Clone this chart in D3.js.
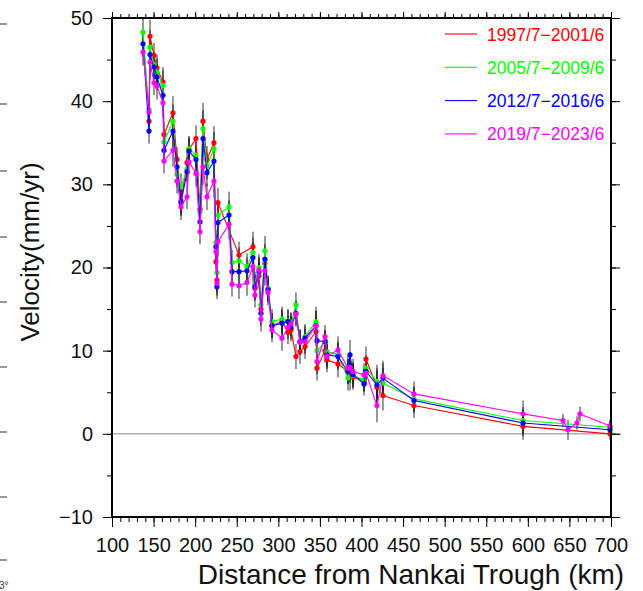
<!DOCTYPE html>
<html>
<head>
<meta charset="utf-8">
<script src="https://cdn.jsdelivr.net/npm/d3@7"></script>
<style>
  html, body { margin: 0; padding: 0; background: #fff; }
  svg { display: block; font-family: "Liberation Sans", Arial, Helvetica, sans-serif; }
</style>
</head>
<body>
<svg id="chart" width="643" height="591"></svg>
<script>
// ---- data ----
const distanceKm = [137.3,144.5,145.7,150.5,154.1,161.3,162.5,173.3,178.2,183.0,190.2,192.6,201.0,205.8,209.4,214.2,222.6,225.0,226.2,227.4,240.7,244.3,252.7,262.3,269.5,271.9,276.7,279.1,283.9,287.6,292.4,304.4,311.6,315.2,321.2,326.0,332.1,345.3,346.5,356.1,358.5,371.7,383.7,386.2,389.8,403.0,405.4,418.6,425.8,463.1,594.2,642.3,648.3,659.1,662.7,698.8];
const vel1997 = [null,37.6,47.8,45.5,44.0,42.3,36.0,38.6,33.0,28.0,32.6,34.2,35.5,27.0,37.6,33.0,35.0,20.7,18.5,27.8,null,null,21.5,null,22.5,17.5,19.0,15.0,20.5,17.5,13.0,13.5,12.2,12.5,9.3,9.9,10.5,12.3,7.9,10.0,8.9,8.4,7.5,7.0,6.8,6.5,9.0,5.6,4.6,3.4,0.9,null,null,null,null,0.0];
const vel2005 = [48.3,39.0,46.5,44.4,43.5,41.9,35.1,37.6,31.2,29.7,31.8,34.3,33.5,26.7,36.7,32.2,34.3,23.0,19.4,26.3,27.3,20.6,20.8,20.1,21.8,18.0,20.0,15.5,22.0,17.5,13.5,13.8,13.6,13.2,15.5,11.0,11.7,13.5,10.0,11.0,9.9,9.5,6.7,8.0,7.0,6.5,7.9,6.3,6.1,4.2,1.6,null,null,null,null,0.8];
const vel2012 = [46.9,36.4,45.6,44.1,42.9,40.7,34.1,36.4,32.1,27.8,31.5,34.0,33.0,25.5,35.5,31.4,32.8,22.5,17.7,25.4,26.3,19.5,19.5,19.6,21.2,17.7,19.5,14.5,21.0,17.3,13.0,13.3,13.5,12.8,14.5,11.1,11.5,13.0,11.2,11.1,9.5,9.3,7.5,9.5,7.1,6.0,7.5,5.9,6.7,4.0,1.3,null,null,null,null,0.5];
const vel2019 = [45.9,38.7,44.7,42.2,41.8,39.8,32.8,34.1,30.4,27.3,28.5,32.7,31.3,24.3,32.1,28.5,30.4,21.9,18.1,23.1,25.2,18.0,17.8,18.2,20.1,16.7,19.7,13.8,19.6,17.0,12.5,11.5,12.8,13.2,14.4,11.0,11.1,13.0,8.7,11.7,9.3,10.1,7.9,8.0,7.5,7.1,7.3,3.4,7.0,4.8,2.4,1.6,0.5,1.3,2.4,0.95];
const errorMm = [1.6,1.5,2.0,1.5,1.6,1.8,1.5,2.0,1.5,1.6,1.5,1.5,1.6,1.5,2.2,1.6,2.0,1.5,1.5,1.8,1.8,1.5,1.6,1.6,1.8,1.5,1.6,1.5,1.8,1.5,1.5,1.5,1.4,1.4,1.5,1.5,1.5,1.8,1.5,1.4,1.5,1.6,1.5,1.8,1.5,1.4,1.5,2.0,1.8,1.5,1.6,0.8,1.2,0.8,0.9,0.7];
const seriesLabels = ["1997/7\u22122001/6","2005/7\u22122009/6","2012/7\u22122016/6","2019/7\u22122023/6"];
const seriesColors = ["#ff0000","#00ff00","#0000ff","#ff00ff"];
const xMajorTicks = [100,150,200,250,300,350,400,450,500,550,600,650,700];
const yMajorTicks = [-10,0,10,20,30,40,50];

// ---- layout ----
const svg = d3.select("#chart");
const X0 = 112, X1 = 611, Y0 = 18, Y1 = 517;
const x = d3.scaleLinear().domain([100,700]).range([X0,X1]);
const y = d3.scaleLinear().domain([-10,50]).range([Y1,Y0]);
const seriesValues = [vel1997, vel2005, vel2012, vel2019];

// left-edge residual ticks (artefact in reference)
const g0 = svg.append("g");
[24,104,171,237,302,367,432,497,560].forEach(t => {
  g0.append("line").attr("x1",0).attr("x2",7).attr("y1",t).attr("y2",t).attr("stroke","#333").attr("stroke-width",1);
});
svg.append("text").attr("x",-1).attr("y",589).attr("font-size",10).attr("fill","#333").text("3°");

// zero line
svg.append("line").attr("x1",X0).attr("x2",X1+10).attr("y1",y(0)).attr("y2",y(0))
  .attr("stroke","#888").attr("stroke-width",1);

// error bars
const gErr = svg.append("g");
seriesValues.forEach(vals => {
  distanceKm.forEach((d,i) => {
    if (vals[i] == null) return;
    gErr.append("line")
      .attr("x1",x(d)).attr("x2",x(d))
      .attr("y1",y(vals[i]-errorMm[i])).attr("y2",y(vals[i]+errorMm[i]))
      .attr("stroke","#000").attr("stroke-opacity",0.45).attr("stroke-width",1.8);
  });
});

// lines + dots
seriesValues.forEach((vals, s) => {
  const pts = distanceKm.map((d,i) => ({x:d, v:vals[i]})).filter(p => p.v != null);
  svg.append("path").datum(pts)
    .attr("fill","none").attr("stroke",seriesColors[s]).attr("stroke-width",1.1)
    .attr("d", d3.line().x(p => x(p.x)).y(p => y(p.v)));
  svg.append("g").selectAll("circle").data(pts).enter().append("circle")
    .attr("cx", p => x(p.x)).attr("cy", p => y(p.v)).attr("r",2.6)
    .attr("fill",seriesColors[s]);
});

// axes
const font = "Liberation Sans, Arial, Helvetica, sans-serif";
function styleAxis(g){ g.select(".domain").remove(); g.selectAll("line").attr("stroke","#000").attr("stroke-width",1); g.selectAll("text").attr("font-family",font).attr("fill","#111"); }
const xMinor = d3.range(100,701,10);
const yMinor = d3.range(-10,51,5);

svg.append("g").attr("transform",`translate(0,${Y1})`)
  .call(d3.axisBottom(x).tickValues(xMinor).tickSize(5).tickFormat("")).call(styleAxis);
svg.append("g").attr("transform",`translate(0,${Y1})`)
  .call(d3.axisBottom(x).tickValues(xMajorTicks).tickSize(10).tickPadding(11).tickFormat(d3.format("d")))
  .call(styleAxis).selectAll("text").attr("font-size",20);
svg.append("g").attr("transform",`translate(0,${Y0})`)
  .call(d3.axisTop(x).tickValues(xMinor).tickSize(4).tickFormat("")).call(styleAxis);
svg.append("g").attr("transform",`translate(0,${Y0})`)
  .call(d3.axisTop(x).tickValues(xMajorTicks).tickSize(6).tickFormat("")).call(styleAxis);

svg.append("g").attr("transform",`translate(${X0},0)`)
  .call(d3.axisLeft(y).tickValues(yMinor).tickSize(5).tickFormat("")).call(styleAxis);
svg.append("g").attr("transform",`translate(${X0},0)`)
  .call(d3.axisLeft(y).tickValues(yMajorTicks).tickSize(9).tickPadding(10).tickFormat(d => d < 0 ? "\u2212" + Math.abs(d) : d))
  .call(styleAxis).selectAll("text").attr("font-size",20);
svg.append("g").attr("transform",`translate(${X1},0)`)
  .call(d3.axisRight(y).tickValues(yMinor).tickSize(5).tickFormat("")).call(styleAxis);
svg.append("g").attr("transform",`translate(${X1},0)`)
  .call(d3.axisRight(y).tickValues(yMajorTicks).tickSize(9).tickFormat("")).call(styleAxis);

// frame
svg.append("rect").attr("x",X0).attr("y",Y0).attr("width",X1-X0).attr("height",Y1-Y0)
  .attr("fill","none").attr("stroke","#000").attr("stroke-width",2);

// titles
svg.append("text").attr("x",411).attr("y",584).attr("text-anchor","middle")
  .attr("font-size",28).attr("fill","#111").text("Distance from Nankai Trough (km)");
svg.append("text").attr("transform","translate(39,252) rotate(-90)").attr("text-anchor","middle")
  .attr("font-size",26).attr("fill","#111").text("Velocity(mm/yr)");

// legend
const leg = svg.append("g");
seriesLabels.forEach((lab,i) => {
  const ly = 34 + i*33.3;
  leg.append("line").attr("x1",445).attr("x2",477).attr("y1",ly).attr("y2",ly)
    .attr("stroke",seriesColors[i]).attr("stroke-width",1.1);
  leg.append("text").attr("x",487).attr("y",ly+6.5).attr("font-size",17.5)
    .attr("fill",seriesColors[i]).text(lab);
});
</script>
</body>
</html>
